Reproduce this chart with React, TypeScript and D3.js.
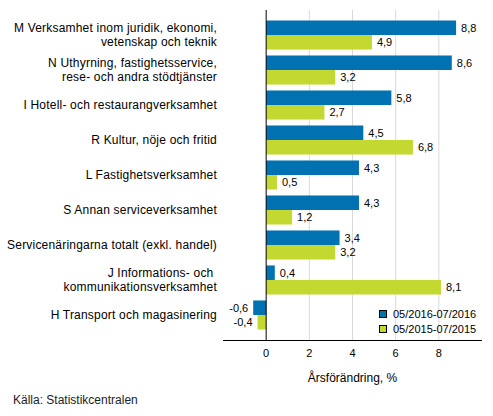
import React, { useRef, useEffect } from 'react';
import * as d3 from 'd3';

const categories: string[][] = [
    ['M Verksamhet inom juridik, ekonomi,', 'vetenskap och teknik'],
    ['N Uthyrning, fastighetsservice,', 'rese- och andra stödtjänster'],
    ['I Hotell- och restaurangverksamhet'],
    ['R Kultur, nöje och fritid'],
    ['L Fastighetsverksamhet'],
    ['S Annan serviceverksamhet'],
    ['Servicenäringarna totalt (exkl. handel)'],
    ['J Informations- och ', 'kommunikationsverksamhet'],
    ['H Transport och magasinering'],
];
const series2016 = [8.8, 8.6, 5.8, 4.5, 4.3, 4.3, 3.4, 0.4, -0.6];
const series2015 = [4.9, 3.2, 2.7, 6.8, 0.5, 1.2, 3.2, 8.1, -0.4];
const seriesNames = ['05/2016-07/2016', '05/2015-07/2015'];
const seriesColors = ['#0072b1', '#c3d830'];
const xTicks = [0, 2, 4, 6, 8];

const width = 493;
const height = 416;
const font = '"Liberation Sans", Arial, sans-serif';

const App: React.FC = () => {
    const ref = useRef<SVGSVGElement | null>(null);

    useEffect(() => {
        const svg = d3.select(ref.current);
        svg.selectAll('*').remove();

        const left = 223;
        const right = 482;
        const top = 10;
        const bottom = 340;

        const x = d3.scaleLinear().domain([-2, 10]).range([left, right]);
        const y = d3
            .scaleBand<number>()
            .domain(d3.range(categories.length))
            .range([top, bottom])
            .paddingInner(0.17)
            .paddingOuter(0.3);
        const sub = d3
            .scaleBand<number>()
            .domain([0, 1])
            .range([0, y.bandwidth()]);

        // grid
        svg.append('g')
            .selectAll('line')
            .data(xTicks.filter(t => t !== 0))
            .enter()
            .append('line')
            .attr('x1', d => x(d))
            .attr('x2', d => x(d))
            .attr('y1', top)
            .attr('y2', bottom)
            .attr('stroke', '#d9d9d9')
            .attr('stroke-width', 1);

        const fmt = (v: number) => String(v).replace('.', ',');
        const allSeries = [series2016, series2015];

        allSeries.forEach((vals, si) => {
            const g = svg.append('g');
            g.selectAll('rect')
                .data(vals)
                .enter()
                .append('rect')
                .attr('x', d => x(Math.min(0, d)))
                .attr('width', d => Math.abs(x(d) - x(0)))
                .attr('y', (d, i) => (y(i) ?? 0) + (sub(si) ?? 0))
                .attr('height', sub.bandwidth())
                .attr('fill', seriesColors[si]);
            g.selectAll('text')
                .data(vals)
                .enter()
                .append('text')
                .attr('x', d => (d < 0 ? x(d) - 5 : x(d) + 5))
                .attr('y', (d, i) => (y(i) ?? 0) + (sub(si) ?? 0) + sub.bandwidth() / 2 + 4)
                .attr('text-anchor', d => (d < 0 ? 'end' : 'start'))
                .style('font-family', font)
                .style('font-size', '11px')
                .attr('fill', '#000')
                .text(d => fmt(d));
        });

        // zero line and x axis line
        svg.append('line')
            .attr('x1', x(0))
            .attr('x2', x(0))
            .attr('y1', top)
            .attr('y2', bottom)
            .attr('stroke', '#000');
        svg.append('line')
            .attr('x1', left)
            .attr('x2', right)
            .attr('y1', bottom + 0.5)
            .attr('y2', bottom + 0.5)
            .attr('stroke', '#000');

        svg.append('g')
            .selectAll('text')
            .data(xTicks)
            .enter()
            .append('text')
            .attr('x', d => x(d))
            .attr('y', bottom + 17)
            .attr('text-anchor', 'middle')
            .style('font-family', font)
            .style('font-size', '11px')
            .text(d => d);

        svg.append('text')
            .attr('x', (left + right) / 2)
            .attr('y', bottom + 42)
            .attr('text-anchor', 'middle')
            .style('font-family', font)
            .style('font-size', '12px')
            .text('Årsförändring, %');

        // category labels
        const cats = svg.append('g');
        categories.forEach((lines, i) => {
            const cy = (y(i) ?? 0) + y.bandwidth() / 2;
            const t = cats
                .append('text')
                .attr('text-anchor', 'end')
                .style('font-family', font)
                .style('font-size', '12px')
                .style('letter-spacing', '0.2px')
                .style('white-space', 'pre');
            lines.forEach((line, li) => {
                t.append('tspan')
                    .attr('x', left - 6)
                    .attr('y', cy + 4 + (li - (lines.length - 1) / 2) * 14)
                    .text(line);
            });
        });

        // legend
        const legend = svg.append('g');
        seriesNames.forEach((name, i) => {
            const ly = 314 + i * 15;
            legend
                .append('rect')
                .attr('x', 379.5)
                .attr('y', ly - 3.5)
                .attr('width', 7)
                .attr('height', 7)
                .attr('fill', seriesColors[i])
                .attr('stroke', '#000')
                .attr('stroke-width', 1);
            legend
                .append('text')
                .attr('x', 393)
                .attr('y', ly + 4)
                .style('font-family', font)
                .style('font-size', '11px')
                .text(name);
        });

        svg.append('text')
            .attr('x', 13)
            .attr('y', 404)
            .style('font-family', font)
            .style('font-size', '12px')
            .attr('fill', '#222')
            .text('Källa: Statistikcentralen');
    }, []);

    return (
        <svg
            ref={ref}
            width={width}
            height={height}
            style={{ position: 'absolute', left: 0, top: 0, background: '#fff' }}
        ></svg>
    );
};

export default App;
